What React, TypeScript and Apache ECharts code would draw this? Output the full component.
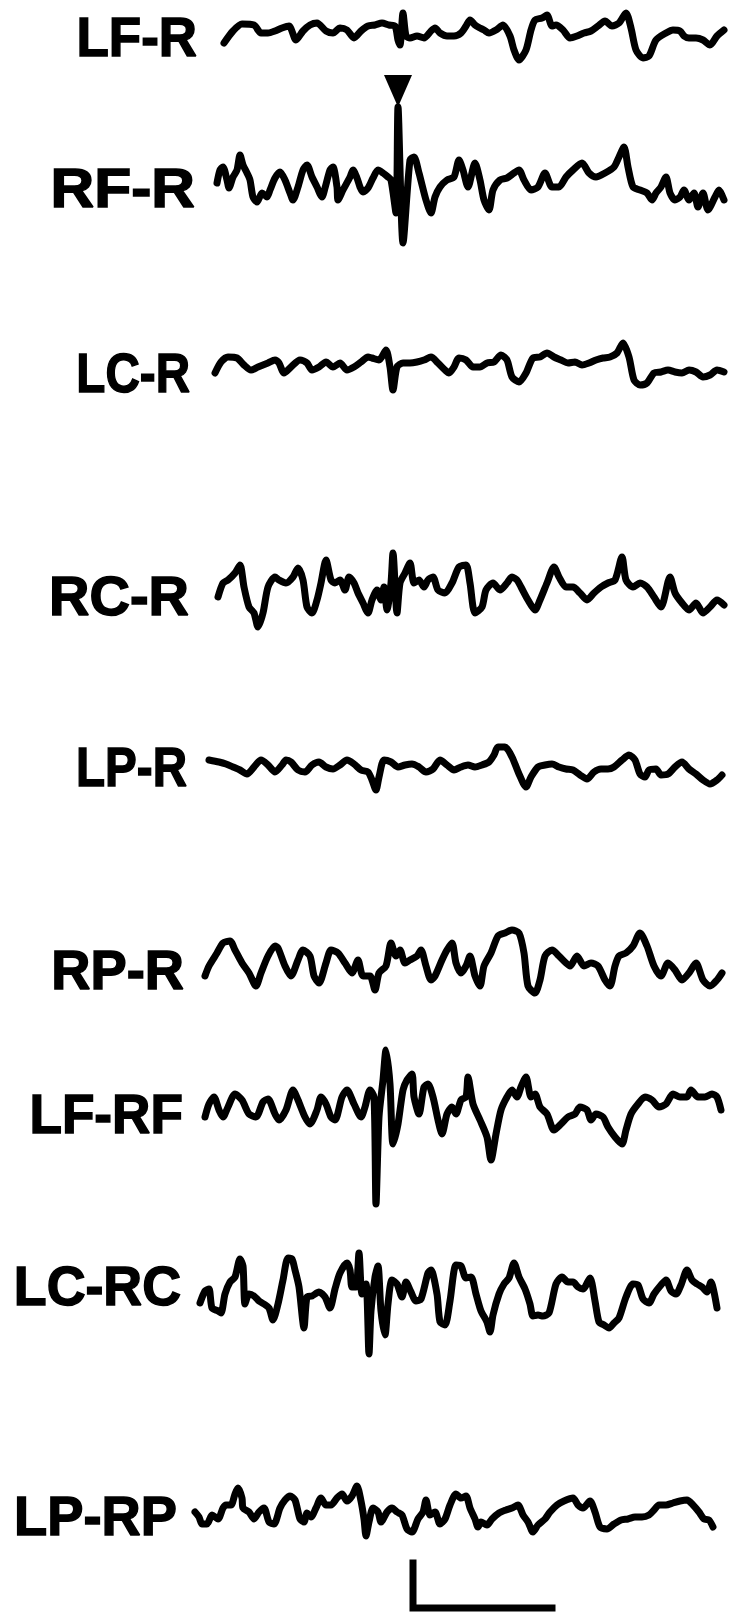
import React, { useEffect, useRef } from "react";
import * as echarts from "echarts";

// ---- Channel labels ----
const LABELS = ["LF-R", "RF-R", "LC-R", "RC-R", "LP-R", "RP-R", "LF-RF", "LC-RC", "LP-RP"];

// ---- Trace values: [time, amplitude] read from the record ----
const LF_R: number[][] = [[10,-10],[19,2],[28,9],[40,8],[47,0],[54,0],[61,2],[68,5],[75,7],[82,-7],[89,2],[96,8],[103,10],[112,2],[119,0],[126,5],[133,3],[140,-5],[147,2],[154,7],[161,8],[168,10],[175,8],[181,7],[184,-7],[186,-12],[189,20],[192,-3],[196,-5],[203,-3],[210,-5],[217,2],[221,5],[226,0],[233,-3],[240,-3],[247,0],[252,7],[256,13],[261,8],[266,5],[270,3],[275,0],[282,3],[289,8],[296,-3],[300,-17],[305,-27],[312,-17],[317,3],[321,13],[328,15],[333,18],[338,7],[342,8],[349,3],[356,-5],[363,-3],[370,0],[377,2],[384,7],[391,12],[398,7],[405,10],[412,20],[417,5],[422,-17],[429,-25],[435,-23],[442,-7],[452,0],[459,3],[466,2],[470,-3],[475,-5],[482,-5],[489,-7],[496,-12],[503,-3],[510,3]];

const RF_R: number[][] = [[3,0],[6,13],[9,16],[13,3],[15,-5],[19,6],[23,13],[26,28],[29,18],[33,10],[36,3],[39,-14],[43,-19],[48,-10],[53,-14],[56,-7],[61,5],[66,11],[71,3],[76,-10],[79,-17],[84,-4],[89,13],[93,18],[98,6],[103,-4],[108,-14],[111,-5],[116,13],[119,16],[123,-4],[124,-17],[129,-7],[136,6],[139,13],[143,5],[146,-4],[149,-9],[154,-5],[159,5],[164,13],[169,10],[174,6],[177,3],[182,-30],[184,76],[189,-60],[196,23],[200,26],[205,10],[212,-17],[217,-30],[221,-14],[226,-4],[233,3],[240,6],[245,23],[249,13],[254,-4],[261,20],[266,3],[270,-17],[275,-27],[279,-7],[286,3],[293,5],[300,10],[305,13],[310,3],[317,-7],[324,-4],[331,10],[338,-4],[345,-4],[352,6],[359,13],[368,20],[375,10],[382,6],[391,10],[400,16],[405,26],[410,36],[414,16],[419,-4],[426,-7],[433,-10],[438,-17],[442,-10],[447,-4],[452,6],[456,-10],[461,-17],[466,-14],[470,-7],[475,-17],[480,-10],[484,-24],[489,-10],[494,-27],[501,-14],[505,-7],[510,-17]];

const LC_R: number[][] = [[1,-6],[7,5],[14,10],[23,9],[30,2],[37,-3],[44,0],[54,4],[61,7],[65,4],[70,-6],[77,0],[86,7],[93,4],[98,-3],[105,0],[112,5],[119,0],[126,4],[133,-3],[140,0],[147,5],[154,10],[158,9],[165,7],[172,17],[176,0],[179,-23],[183,0],[189,4],[196,4],[203,5],[210,7],[217,10],[224,4],[231,-3],[235,-6],[240,0],[245,9],[252,7],[259,0],[266,0],[273,4],[280,5],[287,12],[293,7],[298,-10],[305,-15],[312,-6],[319,9],[326,10],[333,14],[340,10],[347,7],[354,4],[361,5],[368,2],[375,4],[382,7],[389,9],[396,10],[403,14],[409,24],[415,10],[420,-13],[426,-18],[433,-16],[440,-6],[447,-5],[454,-3],[461,-5],[468,-6],[475,-3],[482,-5],[489,-10],[496,-8],[503,-3],[510,-5]];

const RC_R: number[][] = [[4,-4],[9,10],[14,13],[21,20],[26,28],[30,6],[35,-14],[40,-20],[44,-34],[49,-20],[54,6],[61,16],[65,13],[72,10],[79,16],[84,25],[89,13],[93,-14],[98,-20],[103,-7],[107,10],[112,33],[117,13],[121,10],[126,13],[131,3],[135,16],[140,10],[144,0],[149,-10],[154,-20],[158,-7],[163,3],[167,-7],[170,6],[173,-17],[177,10],[179,40],[183,-20],[186,10],[191,20],[196,30],[200,10],[205,13],[210,6],[214,13],[219,16],[224,3],[231,0],[238,10],[245,26],[252,28],[256,10],[261,-20],[268,-14],[272,3],[279,10],[286,3],[293,10],[298,16],[303,13],[307,6],[314,-7],[321,-17],[326,-7],[333,10],[340,26],[345,16],[352,6],[359,6],[366,0],[373,-7],[380,0],[387,6],[394,10],[401,13],[408,36],[412,13],[419,6],[426,10],[433,6],[440,-4],[447,-14],[456,16],[461,0],[468,-10],[475,-17],[482,-10],[489,-20],[496,-14],[503,-7],[510,-12]];

const LP_R: number[][] = [[-5,7],[5,5],[12,3],[19,0],[26,-3],[33,-7],[40,0],[47,7],[54,2],[61,-5],[68,2],[72,7],[77,5],[84,-3],[91,-5],[98,2],[105,5],[112,0],[119,-2],[126,2],[133,7],[140,3],[147,-3],[154,-5],[158,-13],[162,-23],[165,-10],[170,7],[177,5],[184,0],[191,2],[198,3],[205,0],[212,-5],[219,-2],[226,7],[233,2],[240,-3],[247,0],[254,2],[261,0],[268,2],[275,5],[280,12],[284,20],[291,20],[298,10],[305,-7],[312,-20],[317,-10],[324,0],[331,2],[338,3],[345,0],[352,-2],[359,-3],[366,-8],[373,-12],[380,-5],[387,-2],[394,-2],[400,0],[408,7],[415,12],[421,7],[426,-7],[431,-10],[435,-3],[442,-2],[447,-8],[454,-7],[461,0],[468,5],[475,-2],[482,-7],[489,-13],[496,-17],[503,-13],[508,-8]];

const RP_R: number[][] = [[-9,-13],[-5,-3],[3,10],[9,20],[16,22],[21,13],[28,0],[35,-10],[42,-23],[47,-10],[54,7],[61,17],[64,15],[71,-3],[77,-13],[84,3],[89,13],[96,7],[100,-13],[105,-20],[112,0],[117,13],[124,10],[131,0],[138,-10],[144,3],[149,-13],[156,-13],[161,-27],[165,-10],[172,-3],[177,20],[182,7],[186,13],[191,0],[196,3],[203,7],[207,13],[212,-3],[217,-17],[221,-13],[228,3],[233,13],[238,20],[242,0],[247,-10],[252,-3],[256,7],[261,-13],[266,-23],[270,-3],[277,10],[284,27],[291,30],[298,33],[305,30],[310,10],[314,-23],[321,-30],[326,-17],[331,7],[338,13],[345,7],[352,0],[356,-3],[363,7],[370,-3],[377,0],[384,-3],[391,-17],[396,-23],[401,-3],[405,7],[412,10],[419,17],[426,30],[433,17],[440,-3],[447,-13],[454,0],[461,-7],[468,-17],[475,-10],[482,0],[489,-17],[496,-23],[503,-17],[508,-10]];

const LF_RF: number[][] = [[-9,-10],[-5,3],[0,10],[5,-3],[9,-10],[14,0],[21,13],[28,7],[35,-7],[42,-10],[49,5],[54,8],[61,-7],[65,-13],[72,-3],[79,17],[84,7],[91,-10],[96,-17],[103,-3],[107,10],[112,3],[117,-10],[121,-13],[128,10],[133,17],[140,3],[147,-10],[151,0],[156,17],[160,10],[162,-97],[165,-10],[169,27],[172,57],[176,23],[179,-37],[184,-17],[189,17],[193,27],[198,33],[200,10],[205,-7],[210,20],[214,23],[219,10],[224,-13],[228,-27],[233,-7],[238,0],[242,-7],[247,7],[252,10],[254,30],[259,3],[266,-13],[273,-30],[277,-53],[282,-27],[287,-3],[293,10],[298,17],[303,10],[307,20],[312,30],[317,10],[321,13],[326,0],[333,-7],[340,-23],[347,-17],[354,-10],[361,-7],[366,0],[373,-3],[377,-13],[382,-7],[389,-10],[394,-20],[401,-30],[408,-37],[412,-23],[417,-7],[424,3],[431,10],[438,7],[445,0],[452,3],[459,13],[466,10],[473,10],[477,17],[484,10],[491,10],[498,13],[503,10],[507,-3]];

const LC_RC: number[][] = [[-14,-9],[-9,3],[-5,5],[-2,-14],[4,-17],[7,-19],[11,0],[16,12],[21,17],[26,35],[29,28],[31,-10],[35,0],[40,-2],[45,-7],[50,-10],[55,-14],[59,-26],[64,-10],[69,14],[74,36],[78,35],[81,24],[85,7],[90,-34],[93,-3],[98,-2],[105,2],[111,-3],[116,-14],[121,5],[126,21],[133,31],[136,24],[138,7],[142,7],[145,41],[148,0],[152,10],[155,-60],[157,-17],[161,17],[164,28],[167,-17],[171,-41],[174,-10],[178,14],[183,10],[188,-3],[192,12],[197,2],[202,-7],[207,-5],[214,21],[217,24],[223,0],[226,-28],[231,-31],[236,-7],[242,29],[247,28],[252,16],[257,17],[262,0],[267,-17],[273,-28],[276,-38],[279,-21],[285,0],[290,10],[295,16],[300,31],[305,17],[311,5],[316,-10],[319,-22],[324,-21],[329,-22],[335,-19],[342,10],[348,17],[354,12],[359,12],[364,7],[369,5],[376,16],[381,-7],[385,-28],[390,-31],[395,-34],[400,-29],[405,-24],[412,-3],[419,10],[424,9],[429,-5],[435,-9],[440,0],[447,9],[452,14],[457,3],[462,0],[467,9],[473,24],[478,14],[483,10],[488,7],[493,2],[497,12],[500,2],[503,-14]];

const LP_RP: number[][] = [[-19,3],[-15,-2],[-12,-9],[-7,-9],[-2,0],[4,-4],[9,7],[12,10],[17,10],[21,21],[24,27],[28,17],[29,7],[35,3],[40,-4],[45,3],[50,7],[55,-7],[60,-9],[66,7],[71,15],[76,19],[81,15],[86,-4],[90,-7],[93,2],[97,-2],[102,7],[107,17],[112,10],[117,10],[123,17],[128,21],[133,14],[138,19],[143,29],[147,14],[150,-4],[152,-21],[155,-7],[159,7],[164,3],[167,-7],[173,3],[178,7],[183,3],[188,0],[193,-14],[198,-17],[204,-4],[209,3],[212,15],[216,0],[221,3],[226,-9],[231,-4],[236,10],[242,21],[247,17],[252,19],[256,7],[261,-4],[264,-12],[267,-7],[273,-10],[278,-4],[285,2],[292,5],[298,7],[304,10],[309,0],[314,-7],[319,-17],[324,-10],[331,-4],[336,3],[343,10],[350,14],[359,17],[364,10],[369,7],[376,14],[381,3],[386,-12],[393,-14],[400,-9],[407,-5],[414,-4],[421,-2],[428,-2],[435,0],[440,5],[445,10],[452,10],[459,12],[466,14],[473,15],[479,10],[485,3],[490,-4],[495,-5],[499,-12]];

const TRACES = [LF_R, RF_R, LC_R, RC_R, LP_R, RP_R, LF_RF, LC_RC, LP_RP];

// Calibration bar (drawn in the LP-RP channel's units)
const CAL_T0 = 199;
const CAL_TOP = -48;
const CAL_AMP = 45;
const CAL_TIME = 139;

// ---- Layout (pixels; one axis unit = one pixel) ----
const W = 730;
const H = 1615;
const X_MIN = -20;
const X_MAX = 516;
const GRID_LEFT = 194;
const BASELINES = [33, 183, 367, 593, 767, 963, 1107, 1294, 1515];
const Y_MAX = [30, 115, 40, 50, 40, 50, 70, 50, 40];
const Y_MIN = [-40, -70, -40, -50, -40, -50, -110, -70, -100];
const LABEL_RIGHT = [197, 195, 190, 189, 187, 184, 183, 181, 177];
const LABEL_Y = [37, 187, 373, 595, 767, 970, 1114, 1286, 1516];
const LABEL_SCALE_X = [0.945, 1.08, 0.85, 1.0, 0.85, 0.97, 0.95, 0.96, 0.97];

const INK = "#000000";
const LINE_W = 7;

export default function App() {
  const ref = useRef<HTMLDivElement>(null);

  useEffect(() => {
    if (!ref.current) return;
    const chart = echarts.init(ref.current, undefined, { renderer: "svg", width: W, height: H });

    const grids = TRACES.map((_, i) => ({
      left: GRID_LEFT,
      width: X_MAX - X_MIN,
      top: BASELINES[i] - Y_MAX[i],
      height: Y_MAX[i] - Y_MIN[i],
      containLabel: false,
    }));
    const xAxes = TRACES.map((_, i) => ({
      type: "value",
      gridIndex: i,
      min: X_MIN,
      max: X_MAX,
      show: false,
    }));
    const yAxes = TRACES.map((_, i) => ({
      type: "value",
      gridIndex: i,
      min: Y_MIN[i],
      max: Y_MAX[i],
      show: false,
    }));

    const series: any[] = TRACES.map((data, i) => ({
      type: "line",
      name: LABELS[i],
      xAxisIndex: i,
      yAxisIndex: i,
      data,
      showSymbol: false,
      smooth: 0.25,
      clip: false,
      silent: true,
      lineStyle: { color: INK, width: LINE_W, cap: "round", join: "round" },
      markPoint:
        i === 1
          ? {
              silent: true,
              symbol: "path://M0,0L28,0L14,32Z",
              symbolSize: [28, 32],
              symbolOffset: [0, -16],
              itemStyle: { color: INK },
              label: { show: false },
              data: [{ type: "max" }],
            }
          : undefined,
    }));

    series.push({
      type: "line",
      name: "calibration",
      xAxisIndex: 8,
      yAxisIndex: 8,
      data: [
        [CAL_T0, CAL_TOP],
        [CAL_T0, CAL_TOP - CAL_AMP],
        [CAL_T0 + CAL_TIME, CAL_TOP - CAL_AMP],
      ],
      showSymbol: false,
      clip: false,
      silent: true,
      lineStyle: { color: INK, width: 7, cap: "square", join: "miter" },
    });

    const graphic = LABELS.map((txt, i) => ({
      type: "text",
      x: LABEL_RIGHT[i],
      y: LABEL_Y[i],
      scaleX: LABEL_SCALE_X[i],
      silent: true,
      style: {
        text: txt,
        fill: INK,
        stroke: INK,
        lineWidth: 1.5,
        fontSize: 56,
        fontWeight: "bold",
        fontFamily: "'Liberation Sans', Arial, sans-serif",
        textAlign: "right",
        textVerticalAlign: "middle",
        align: "right",
        verticalAlign: "middle",
      },
    }));

    chart.setOption({
      animation: false,
      backgroundColor: "#ffffff",
      grid: grids,
      xAxis: xAxes,
      yAxis: yAxes,
      series,
      graphic,
    });

    return () => chart.dispose();
  }, []);

  return (
    <div
      ref={ref}
      style={{ position: "fixed", left: 0, top: 0, width: W, height: H, background: "#fff" }}
    />
  );
}
